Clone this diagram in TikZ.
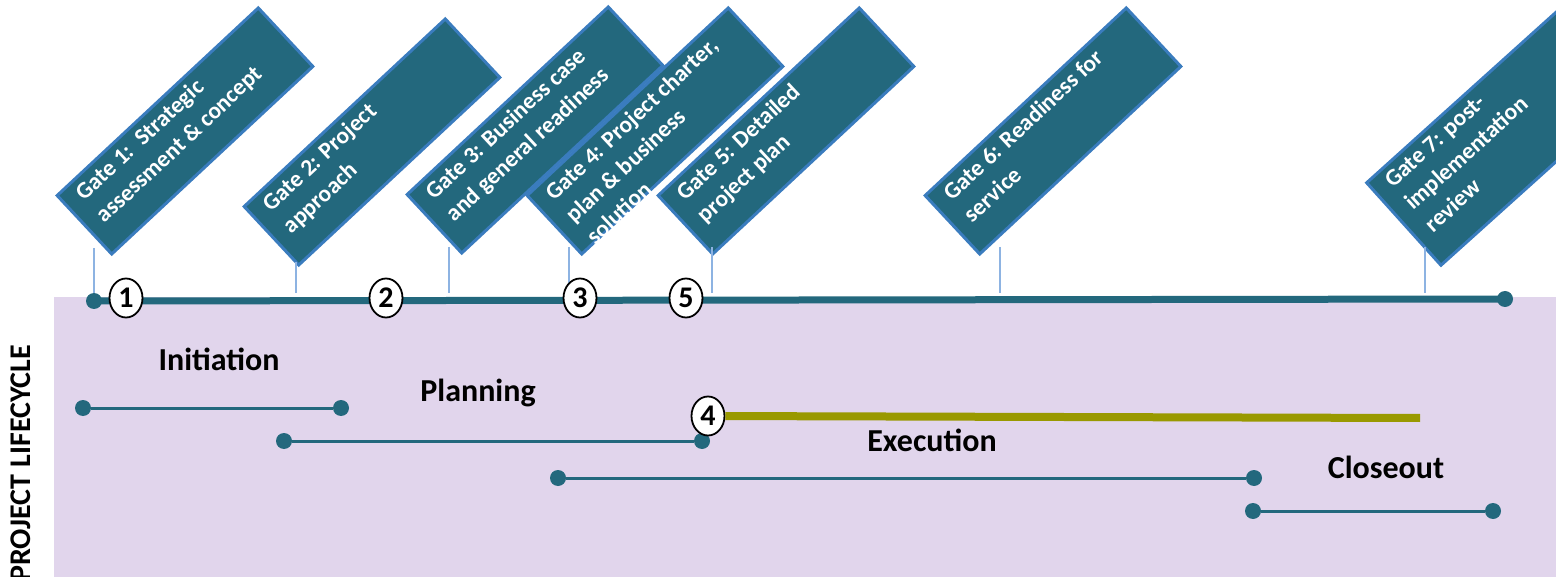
\documentclass[tikz,border=0pt]{standalone}
\usepackage{fontspec}
\setmainfont{Carlito}
\usetikzlibrary{shapes.geometric}
\definecolor{teal1}{RGB}{35,104,125}
\definecolor{gborder}{RGB}{58,124,190}
\definecolor{lav}{RGB}{225,213,236}
\definecolor{olive1}{RGB}{153,153,0}
\definecolor{tick}{RGB}{141,179,226}
\begin{document}
\begin{tikzpicture}[x=1pt,y=-1pt,
 gatebox/.style={draw=gborder,line width=3pt,fill=teal1,minimum width=275pt,minimum height=80pt,inner sep=0pt,rotate=43},
 gatetext/.style={text=white,font=\bfseries\fontsize{23.5}{30}\selectfont,align=left,anchor=north west,inner xsep=17pt,inner ysep=8pt,rotate=43},
 num/.style={ellipse,draw=black,line width=1.8pt,fill=white,minimum width=33pt,minimum height=39pt,inner sep=0pt,font=\bfseries\fontsize{30}{30}\selectfont},
 phase/.style={font=\bfseries\fontsize{32}{34}\selectfont,text=black,inner sep=0pt},
 bar/.style={draw=teal1,line width=3pt},
 dot/.style={circle,fill=teal1,minimum size=16pt,inner sep=0pt},
 tickline/.style={draw=tick,line width=1.5pt}]
\useasboundingbox (0,0) rectangle (1556,577);
\clip (0,0) rectangle (1556,577);
\fill[lav] (54,297) rectangle (1556,577);

% gates
\node[gatebox] (g1) at (185,131) {};
\node[gatetext] (g1t) at (g1.north west) {Gate 1:\ \ Strategic\\assessment \& concept};
\node[gatebox] (g2) at (372,142) {};
\node[gatetext] (g2t) at (g2.north west) {Gate 2: Project\\approach};
\node[gatebox] (g3) at (535,130) {};
\node[gatetext] (g3t) at (g3.north west) {Gate 3: Business case\\and general readiness};
\node[gatebox] (g4) at (655,131) {};
\node[gatetext] (g4t) at (g4.north west) {Gate 4: Project charter,\\plan \& business\\solution};
\node[gatebox] (g5) at (786,131) {};
\node[gatetext] (g5t) at (g5.north west) {Gate 5: Detailed\\project plan};
\node[gatebox] (g6) at (1053,131) {};
\node[gatetext] (g6t) at (g6.north west) {Gate 6: Readiness for\\service};
\node[gatebox,minimum height=111pt,rotate=-1] (g7) at (1506,132) {};
\node[gatetext,rotate=-1] (g7t) at (g7.north west) {Gate 7: post-\\implementation\\review};

% timeline
\node[dot] (t0) at (94,301) {};
\node[dot] (t1) at (1505,299) {};
\draw[draw=teal1,line width=7pt] (t0.center) -- (t1.center);

% tick lines
\coordinate (k1a) at (94,248);
\coordinate (k2a) at (296,262); \coordinate (k2b) at (296,293);
\coordinate (k3a) at (449,247); \coordinate (k3b) at (449,293);
\coordinate (k4a) at (569,247); \coordinate (k4b) at (569,293);
\coordinate (k5a) at (712,247); \coordinate (k5b) at (712,293);
\coordinate (k6a) at (1000,247); \coordinate (k6b) at (1000,293);
\coordinate (k7a) at (1425,247); \coordinate (k7b) at (1425,293);
\draw[tickline] (k1a) -- (t0);
\draw[tickline] (k2a) -- (k2b);
\draw[tickline] (k3a) -- (k3b);
\draw[tickline] (k4a) -- (k4b);
\draw[tickline] (k5a) -- (k5b);
\draw[tickline] (k6a) -- (k6b);
\draw[tickline] (k7a) -- (k7b);

% numbers
\node[num] (n1) at (126,298) {1};
\node[num] (n2) at (386,298) {2};
\node[num] (n3) at (580,298) {3};
\node[num] (n5) at (686,298) {5};

% phases
\node[phase] (pi) at (219,359) {Initiation};
\node[phase] (pp) at (478,393) {Planning};
\node[phase] (pe) at (932,440) {Execution};
\node[phase] (pc) at (1386,467) {Closeout};

\node[dot] (i1) at (83,408) {}; \node[dot] (i2) at (341,408) {};
\draw[bar] (i1) -- (i2);
\node[dot] (p1) at (284,441) {}; \node[dot] (p2) at (702,441) {};
\draw[bar] (p1) -- (p2);
\node[dot] (e1) at (558,478) {}; \node[dot] (e2) at (1254,478) {};
\draw[bar] (e1) -- (e2);
\node[dot] (c1) at (1253,511) {}; \node[dot] (c2) at (1493,511) {};
\draw[bar] (c1) -- (c2);

% execution gate 4
\node[num] (n4) at (708,416) {4};
\coordinate (o2) at (1420,418);
\draw[olive1,line width=8pt] (n4) -- (o2);

\node[rotate=90,anchor=east,font=\bfseries\fontsize{30}{30}\selectfont,inner sep=0pt] (pl) at (21,345) {PROJECT LIFECYCLE};
\end{tikzpicture}
\end{document}
